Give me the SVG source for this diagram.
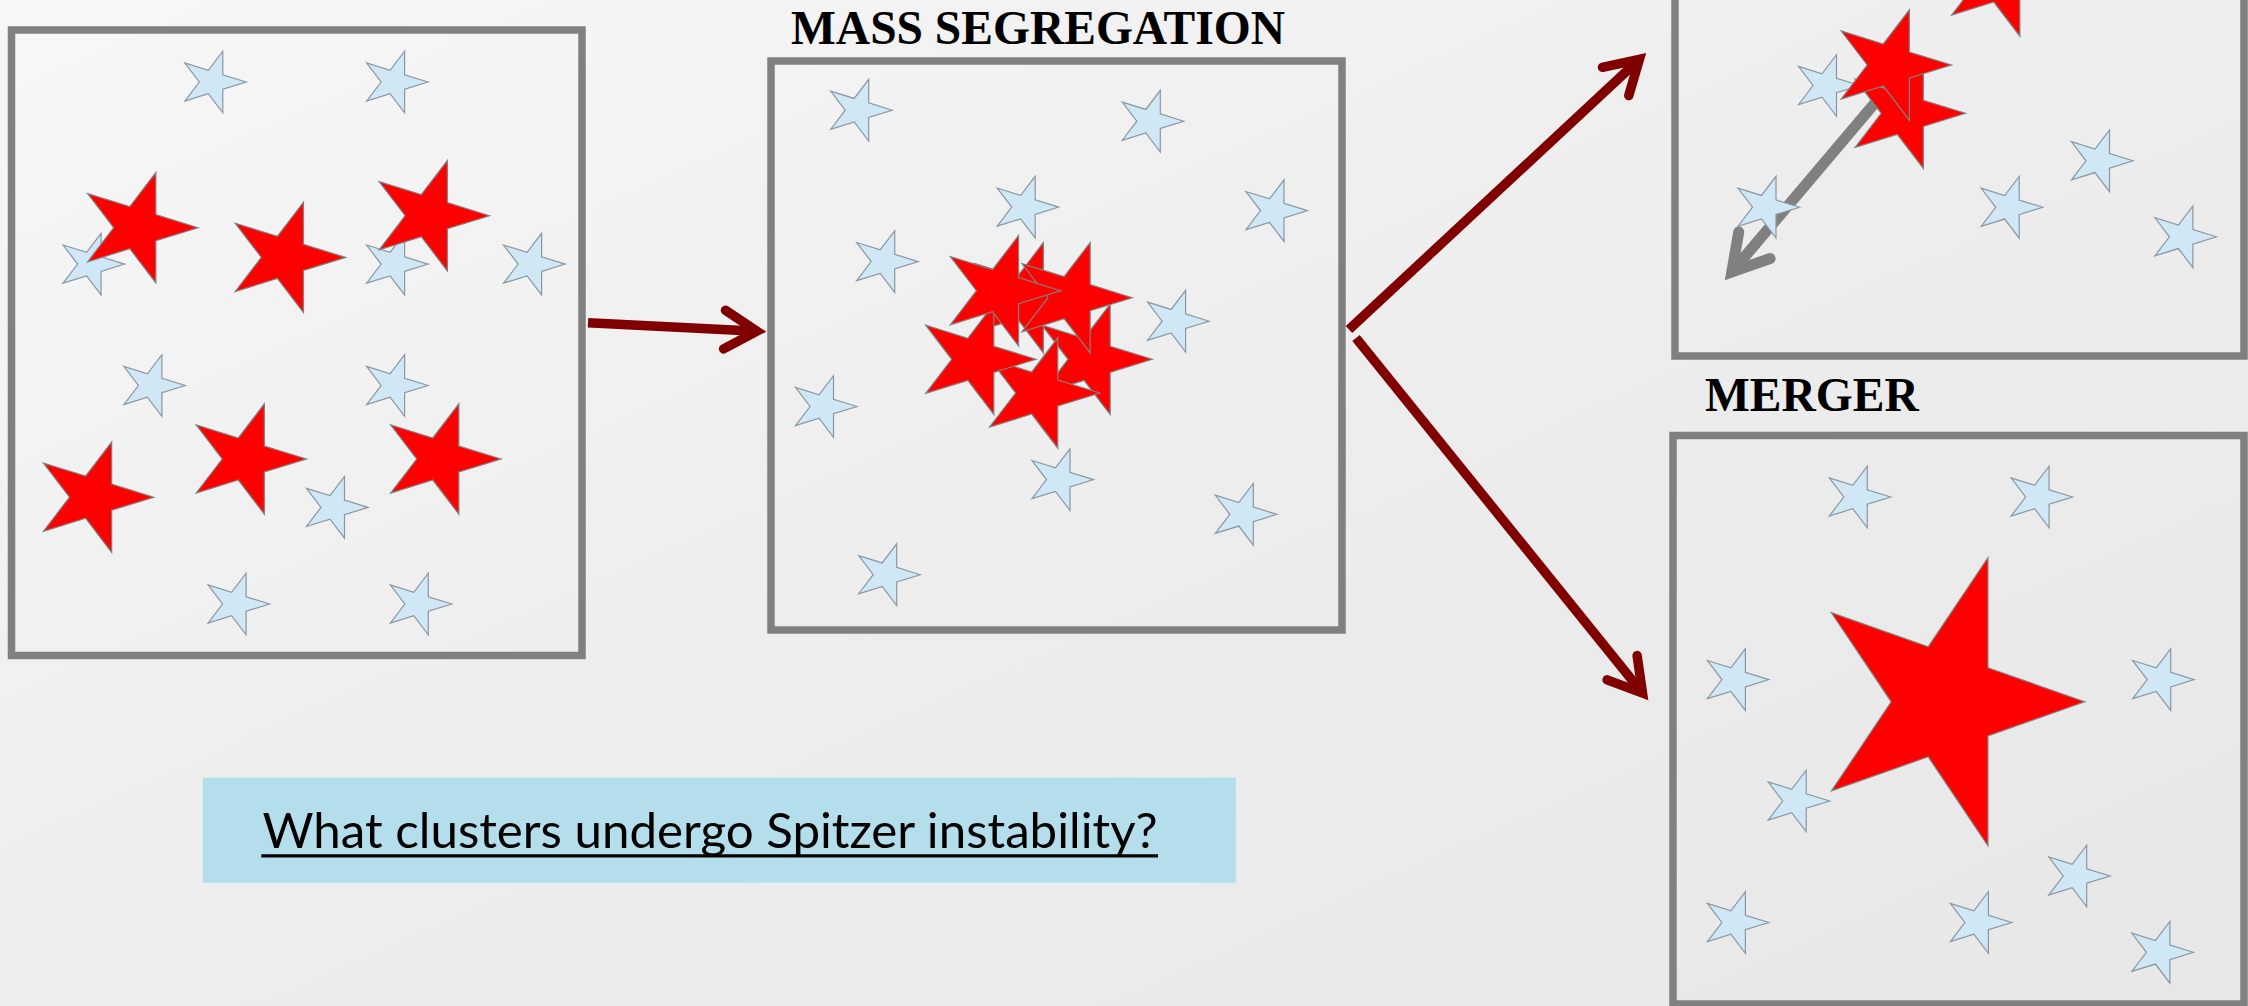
<svg xmlns="http://www.w3.org/2000/svg" xmlns:xlink="http://www.w3.org/1999/xlink" width="2248" height="1006" viewBox="0 0 2248 1006">
<style>
.frame{fill:none;stroke:#808080;stroke-width:7.5}
.b{fill:#d0e7f5;stroke:#8a96a2;stroke-width:1.2}
.r{fill:#ff0000;stroke:#808080;stroke-width:1.2}
.title{font-family:"Liberation Serif","Times New Roman",serif;font-weight:bold;font-size:47.5px;fill:#000}
.conn{stroke:#800000;stroke-width:9.5;fill:none;stroke-linecap:butt}
.q{font-family:Lato,"Liberation Sans",sans-serif;font-size:49px;fill:#000}
</style>
<defs>
<linearGradient id="bg" x1="0" y1="0" x2="1" y2="1">
<stop offset="0" stop-color="#f7f7f7"/>
<stop offset="0.5" stop-color="#ededed"/>
<stop offset="1" stop-color="#e7e7e7"/>
</linearGradient>
<path id="sb" d="M34,0 L10.5,-7.27 L10.5,-30.8 L-4.01,-11.76 L-27.5,-19.05 L-13,0 L-27.5,19.05 L-4.01,11.76 L10.5,30.8 L10.5,7.27 Z"/>
<path id="sr" d="M61,0 L18.85,-13.02 L18.85,-55.16 L-7.2,-21.05 L-49.35,-34.1 L-23.3,0 L-49.35,34.1 L-7.2,21.05 L18.85,55.16 L18.85,13.02 Z"/>
<path id="sbig" d="M140,0 L43.26,-34.01 L43.26,-144.08 L-16.52,-54.99 L-113.26,-89.08 L-53.48,0 L-113.26,89.08 L-16.52,54.99 L43.26,144.08 L43.26,34.01 Z"/>
<marker id="ahR" markerUnits="userSpaceOnUse" orient="auto" refX="0" refY="0" overflow="visible" markerWidth="10" markerHeight="10">
<path d="M-32.5,-19.3 L0,0 L-32.5,19.3" fill="none" stroke="#800000" stroke-width="9.5" stroke-linejoin="miter" stroke-linecap="round"/>
</marker>
<marker id="ahG" markerUnits="userSpaceOnUse" orient="auto" refX="0" refY="0" overflow="visible" markerWidth="10" markerHeight="10">
<path d="M-35,-20.5 L0,0 L-35,20.5" fill="none" stroke="#808080" stroke-width="11" stroke-linejoin="miter" stroke-linecap="round"/>
</marker>
</defs>
<rect x="0" y="0" width="2248" height="1006" fill="url(#bg)"/>

<g id="box1">
<rect class="frame" x="11.5" y="30" width="570.5" height="625.5"/>
<g class="b">
<use xlink:href="#sb" x="212.3" y="82"/>
<use xlink:href="#sb" x="394.1" y="82"/>
<use xlink:href="#sb" x="90.6" y="264.1"/>
<use xlink:href="#sb" x="394.1" y="264.1"/>
<use xlink:href="#sb" x="531.1" y="264.1"/>
<use xlink:href="#sb" x="151.4" y="385.5"/>
<use xlink:href="#sb" x="394.1" y="385.5"/>
<use xlink:href="#sb" x="334" y="507.4"/>
<use xlink:href="#sb" x="235.6" y="604"/>
<use xlink:href="#sb" x="417.8" y="604"/>
</g>
<g class="r">
<use xlink:href="#sr" x="137" y="227.7"/>
<use xlink:href="#sr" x="284.6" y="257.4"/>
<use xlink:href="#sr" x="428.5" y="215.7"/>
<use xlink:href="#sr" x="92.8" y="497.2"/>
<use xlink:href="#sr" x="245.5" y="459"/>
<use xlink:href="#sr" x="440" y="459"/>
</g>
</g>

<g id="box2">
<text class="title" x="791" y="44">MASS SEGREGATION</text>
<rect class="frame" x="771" y="61" width="571" height="569"/>
<g class="b">
<use xlink:href="#sb" x="858.2" y="110.2"/>
<use xlink:href="#sb" x="1149.8" y="121.2"/>
<use xlink:href="#sb" x="1024.7" y="207.1"/>
<use xlink:href="#sb" x="1273.5" y="210.6"/>
<use xlink:href="#sb" x="884.2" y="261.6"/>
<use xlink:href="#sb" x="1175.1" y="321.2"/>
<use xlink:href="#sb" x="823" y="406.5"/>
<use xlink:href="#sb" x="1059.5" y="479.6"/>
<use xlink:href="#sb" x="1242.8" y="514.3"/>
<use xlink:href="#sb" x="886.2" y="574.7"/>
</g>
<g class="r">
<use xlink:href="#sr" x="1024.5" y="297.7"/>
<use xlink:href="#sr" x="1091.3" y="359.3"/>
<use xlink:href="#sr" x="1038.9" y="393"/>
<use xlink:href="#sr" x="975" y="359.3"/>
<use xlink:href="#sr" x="1071.3" y="297.7"/>
<use xlink:href="#sr" x="999.7" y="290.7"/>
</g>
</g>

<g id="box3">
<rect class="frame" x="1675" y="-215" width="569" height="571"/>
<path d="M1880,97 L1731.8,272" fill="none" stroke="#808080" stroke-width="11" marker-end="url(#ahG)"/>
<g class="b">
<use xlink:href="#sb" x="1826" y="85.5"/>
<use xlink:href="#sb" x="1765.5" y="207.2"/>
<use xlink:href="#sb" x="2008.7" y="207.3"/>
<use xlink:href="#sb" x="2099" y="160.8"/>
<use xlink:href="#sb" x="2182.4" y="236.8"/>
</g>
<g class="r">
<use xlink:href="#sr" x="1904.5" y="113.3"/>
<use xlink:href="#sr" x="1890.5" y="65"/>
<use xlink:href="#sr" x="2001" y="-19"/>
</g>
</g>

<g id="box4">
<text class="title" x="1705" y="411">MERGER</text>
<rect class="frame" x="1673" y="435.5" width="571" height="568.5"/>
<g class="b">
<use xlink:href="#sb" x="1856.8" y="497"/>
<use xlink:href="#sb" x="2038.6" y="497"/>
<use xlink:href="#sb" x="1734.9" y="679.6"/>
<use xlink:href="#sb" x="2160.2" y="679.6"/>
<use xlink:href="#sb" x="1795.7" y="801"/>
<use xlink:href="#sb" x="2076.2" y="876"/>
<use xlink:href="#sb" x="1734.9" y="922.5"/>
<use xlink:href="#sb" x="1977.9" y="922.5"/>
<use xlink:href="#sb" x="2159.4" y="952.3"/>
</g>
<use class="r" xlink:href="#sbig" x="1944.7" y="701.8"/>
</g>

<g id="question">
<rect x="202.7" y="777.7" width="1033.1" height="105" fill="#b4deec"/>
<text class="q" x="262.6" y="848.3" textLength="895" lengthAdjust="spacingAndGlyphs">What clusters undergo Spitzer instability?</text>
<line x1="261.3" y1="855.8" x2="1158" y2="855.8" stroke="#000" stroke-width="3.2"/>
</g>

<g id="connectors">
<path class="conn" d="M588,322.8 L757,331.2" marker-end="url(#ahR)"/>
<path class="conn" d="M1349,329.5 L1639.4,59.3" marker-end="url(#ahR)"/>
<path class="conn" d="M1356,338 L1642.5,693" marker-end="url(#ahR)"/>
</g>
</svg>
